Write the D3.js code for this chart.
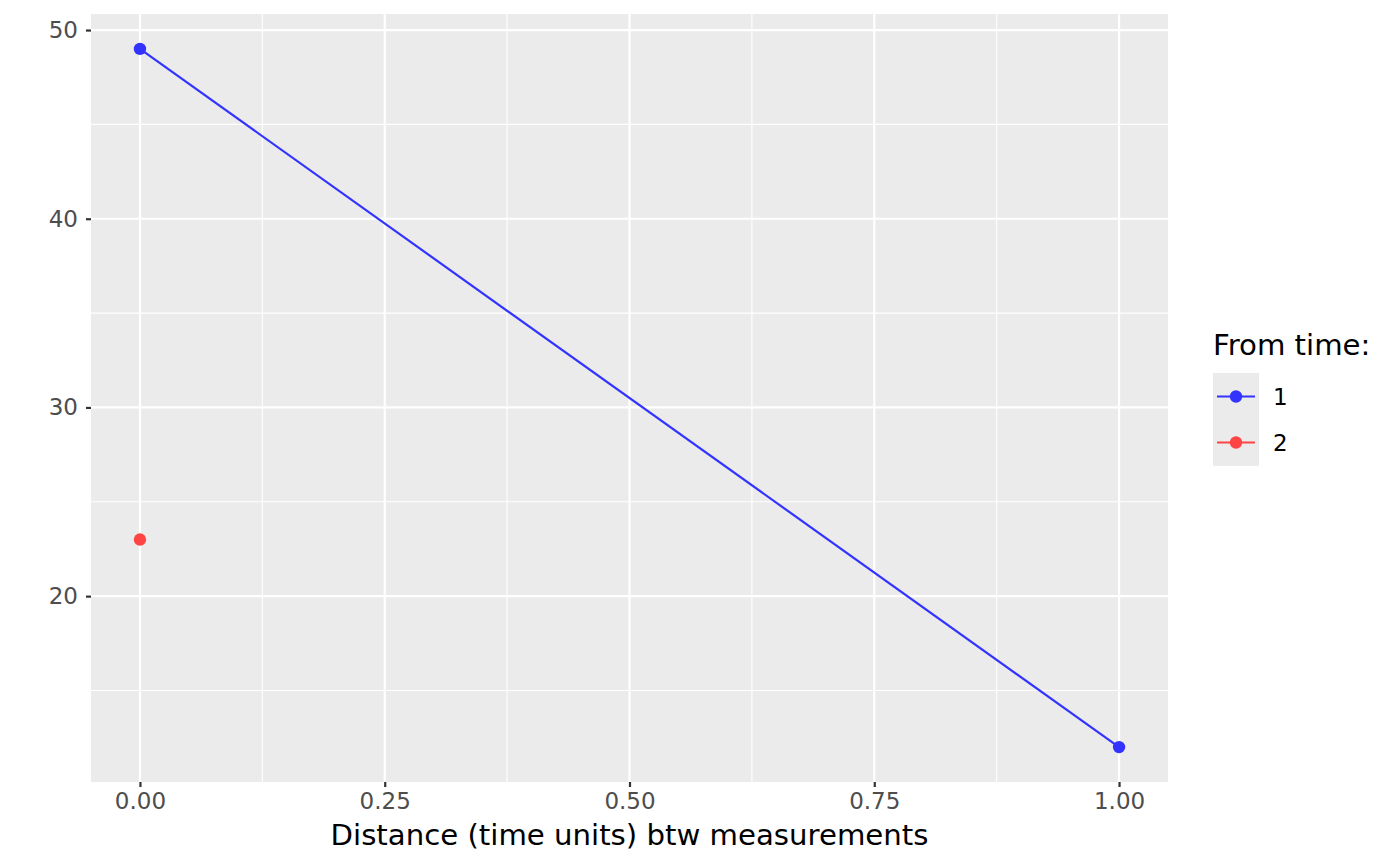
<!DOCTYPE html>
<html>
<head>
<meta charset="utf-8">
<script src="https://cdn.jsdelivr.net/npm/d3@7"></script>
<style>
  body { margin: 0; background: #fff; }
  text { font-family: "DejaVu Sans", sans-serif; }
</style>
</head>
<body>
<div id="svg-container"></div>
<script>
// data
const fromTime = ["1", "2"];
const distance1 = [0, 1];
const value1 = [49, 12];
const distance2 = [0];
const value2 = [23];
const xTicks = [0, 0.25, 0.5, 0.75, 1];
const yTicks = [20, 30, 40, 50];
const colors = ["#3333FF", "#FF4444"];

const width = 1400, height = 866;
const panel = { left: 91, right: 1168, top: 14, bottom: 782 };

const svg = d3.select("#svg-container").append("svg")
  .attr("width", width).attr("height", height);

// scales (ggplot 5% expansion)
const xExt = [0, 1], yExt = [12, 49];
const xPad = (xExt[1] - xExt[0]) * 0.05, yPad = (yExt[1] - yExt[0]) * 0.05;
const x = d3.scaleLinear().domain([xExt[0] - xPad, xExt[1] + xPad]).range([panel.left, panel.right]);
const y = d3.scaleLinear().domain([yExt[0] - yPad, yExt[1] + yPad]).range([panel.bottom, panel.top]);

// panel background
svg.append("rect")
  .attr("x", panel.left).attr("y", panel.top)
  .attr("width", panel.right - panel.left).attr("height", panel.bottom - panel.top)
  .attr("fill", "#EBEBEB");

// minor grid
const xMinor = d3.pairs(xTicks).map(p => (p[0] + p[1]) / 2);
const yMinor = [15, 25, 35, 45];
const grid = svg.append("g");
grid.selectAll(".xminor").data(xMinor).enter().append("line")
  .attr("x1", d => x(d)).attr("x2", d => x(d))
  .attr("y1", panel.top).attr("y2", panel.bottom)
  .attr("stroke", "#fff").attr("stroke-width", 1.1);
grid.selectAll(".yminor").data(yMinor).enter().append("line")
  .attr("y1", d => y(d)).attr("y2", d => y(d))
  .attr("x1", panel.left).attr("x2", panel.right)
  .attr("stroke", "#fff").attr("stroke-width", 1.1);
// major grid
grid.selectAll(".xmajor").data(xTicks).enter().append("line")
  .attr("x1", d => x(d)).attr("x2", d => x(d))
  .attr("y1", panel.top).attr("y2", panel.bottom)
  .attr("stroke", "#fff").attr("stroke-width", 2.2);
grid.selectAll(".ymajor").data(yTicks).enter().append("line")
  .attr("y1", d => y(d)).attr("y2", d => y(d))
  .attr("x1", panel.left).attr("x2", panel.right)
  .attr("stroke", "#fff").attr("stroke-width", 2.2);

// axes
const xAxis = svg.append("g")
  .attr("transform", `translate(0,${panel.bottom})`)
  .call(d3.axisBottom(x).tickValues(xTicks).tickFormat(d3.format(".2f")).tickSize(5).tickPadding(6));
const yAxis = svg.append("g")
  .attr("transform", `translate(${panel.left},0)`)
  .call(d3.axisLeft(y).tickValues(yTicks).tickSize(5).tickPadding(8));
[xAxis, yAxis].forEach(a => {
  a.select(".domain").remove();
  a.selectAll(".tick line").attr("stroke", "#333").attr("stroke-width", 2.2);
  a.selectAll(".tick text").attr("fill", "#4D4D4D")
    .style("font-size", "23px").style("font-family", "DejaVu Sans");
});

// axis title
svg.append("text")
  .attr("x", (panel.left + panel.right) / 2).attr("y", 845)
  .attr("text-anchor", "middle")
  .style("font-size", "29.2px").attr("fill", "#000")
  .text("Distance (time units) btw measurements");

// series
const series = [
  { name: fromTime[0], pts: distance1.map((d, i) => [d, value1[i]]), color: colors[0] },
  { name: fromTime[1], pts: distance2.map((d, i) => [d, value2[i]]), color: colors[1] },
];
const line = d3.line().x(d => x(d[0])).y(d => y(d[1]));
series.forEach(s => {
  svg.append("path").datum(s.pts)
    .attr("d", line).attr("fill", "none")
    .attr("stroke", s.color).attr("stroke-width", 2.2);
  svg.selectAll(null).data(s.pts).enter().append("circle")
    .attr("cx", d => x(d[0])).attr("cy", d => y(d[1]))
    .attr("r", 6.2).attr("fill", s.color);
});

// legend
const lg = svg.append("g").attr("transform", "translate(1213,373)");
svg.append("text").attr("x", 1213).attr("y", 355)
  .style("font-size", "29.2px").attr("fill", "#000").text("From time:");
lg.append("rect").attr("width", 46).attr("height", 93).attr("fill", "#EBEBEB");
series.forEach((s, i) => {
  const cy = 23.5 + i * 46;
  lg.append("line").attr("x1", 4).attr("x2", 42).attr("y1", cy).attr("y2", cy)
    .attr("stroke", s.color).attr("stroke-width", 2.2);
  lg.append("circle").attr("cx", 23).attr("cy", cy).attr("r", 6.2).attr("fill", s.color);
  lg.append("text").attr("x", 60).attr("y", cy).attr("dy", "0.35em")
    .style("font-size", "23px").attr("fill", "#000").text(s.name);
});
</script>
</body>
</html>
